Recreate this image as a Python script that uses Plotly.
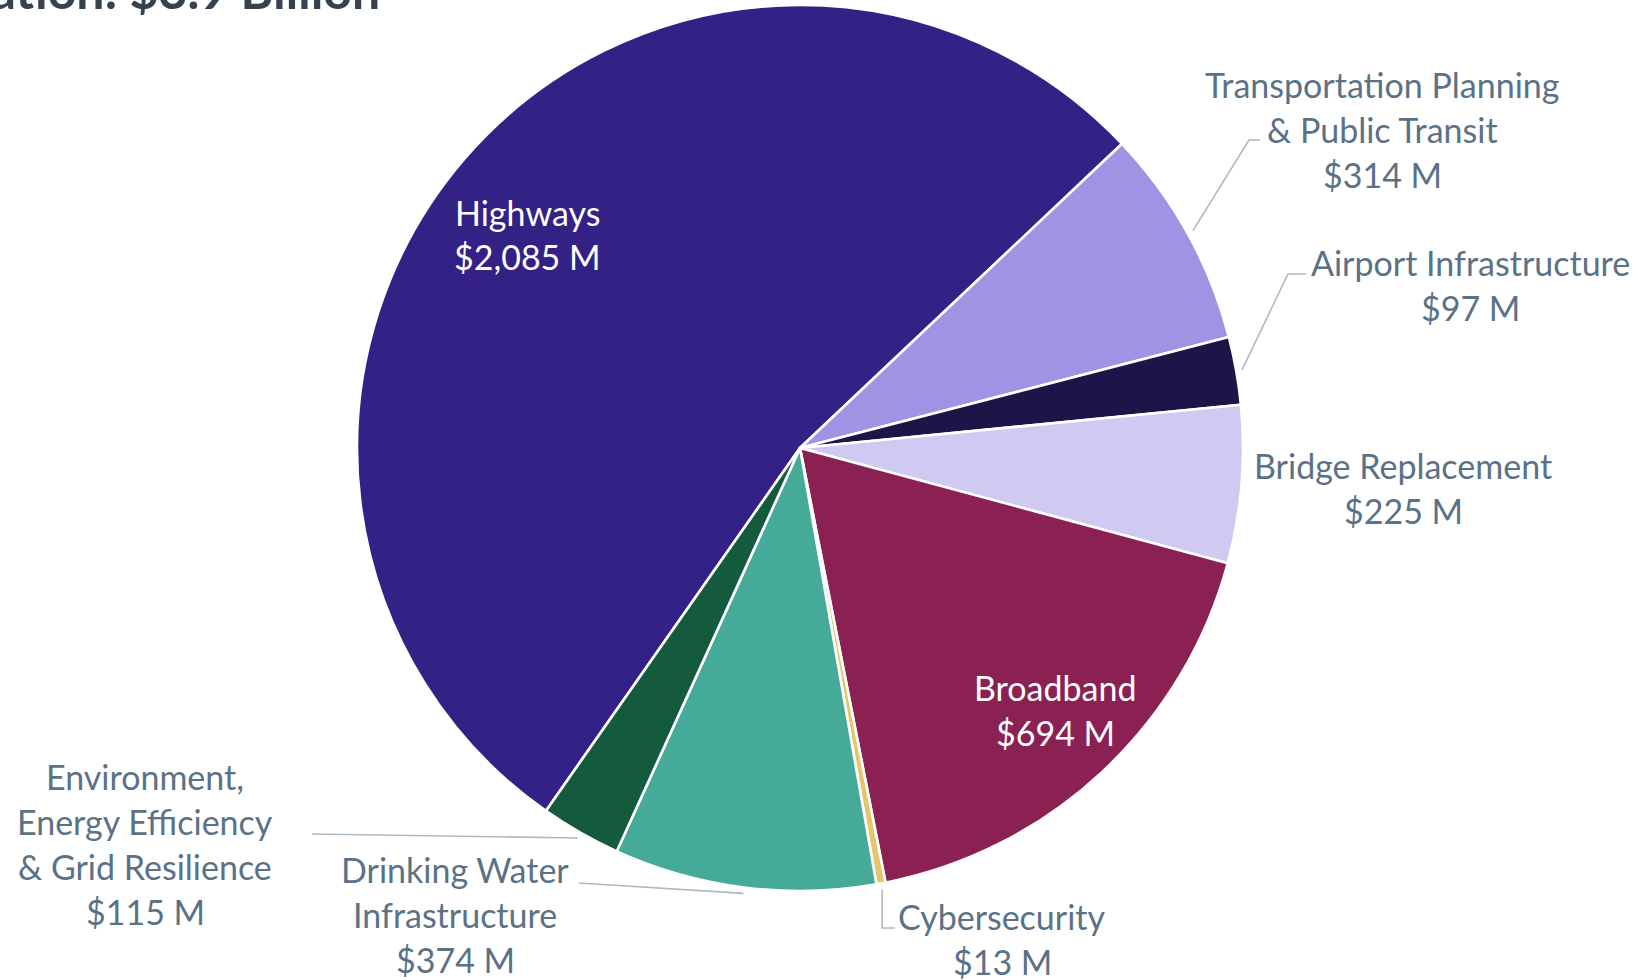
import math
import plotly.graph_objects as go

# ---- data -------------------------------------------------------------
categories = [
    "Highways",
    "Transportation Planning & Public Transit",
    "Airport Infrastructure",
    "Bridge Replacement",
    "Broadband",
    "Cybersecurity",
    "Drinking Water Infrastructure",
    "Environment, Energy Efficiency & Grid Resilience",
]
values_musd = [2085, 314, 97, 225, 694, 13, 374, 115]
label_lines = [
    ["Highways"],
    ["Transportation Planning", "& Public Transit"],
    ["Airport Infrastructure"],
    ["Bridge Replacement"],
    ["Broadband"],
    ["Cybersecurity"],
    ["Drinking Water", "Infrastructure"],
    ["Environment,", "Energy Efficiency", "& Grid Resilience"],
]
title_text = "Total Allocation: $3.9 Billion"

# ---- styling ----------------------------------------------------------
slice_colors = ["#342186", "#A193E3", "#1D1447", "#D0C9F1",
                "#8A2152", "#E4C66C", "#46AA99", "#145A3C"]
inside_labels = {"Highways", "Broadband"}
W, H = 1642, 980
CX, CY, R = 800, 448, 443          # pie centre / radius in px
ROTATION = -145                     # first slice start (deg, clockwise from 12)
FONT = "Lato, 'Noto Sans', sans-serif"
LABEL_COLOR = "#5B7286"
LEADER_COLOR = "#AABAC6"
LINE_GAP = 45
LABEL_SIZE = 34
TITLE_SIZE = 50

# label anchor (centre x, centre y of first line) and leader path end points
label_pos = {
    "Highways": (527, 212),
    "Transportation Planning & Public Transit": (1382, 84),
    "Airport Infrastructure": (1470, 262),
    "Bridge Replacement": (1403, 465),
    "Broadband": (1055, 687),
    "Cybersecurity": (1002, 916),
    "Drinking Water Infrastructure": (455, 869),
    "Environment, Energy Efficiency & Grid Resilience": (145, 776),
}
leader_path = {
    "Transportation Planning & Public Transit": [(1249, 140), (1260, 140)],
    "Airport Infrastructure": [(1288, 274), (1306, 274)],
    "Cybersecurity": [(895, 928)],     # drops straight down, then right
    "Drinking Water Infrastructure": [(579, 883)],
    "Environment, Energy Efficiency & Grid Resilience": [(312, 834)],
}


def px(x, y):
    return x / W, 1 - y / H


fig = go.Figure(
    go.Pie(
        labels=categories,
        values=values_musd,
        sort=False,
        direction="clockwise",
        rotation=ROTATION,
        marker=dict(colors=slice_colors, line=dict(color="white", width=2.6)),
        textinfo="none",
        hoverinfo="label+value",
        showlegend=False,
        domain=dict(x=[(CX - R) / W, (CX + R) / W],
                    y=[1 - (CY + R) / H, 1 - (CY - R) / H]),
    )
)

# mid-angle of each slice from the values, used to start leader lines
total = sum(values_musd)
mid_angle = {}
acc = 0
for name, v in zip(categories, values_musd):
    mid_angle[name] = ROTATION + (acc + v / 2) / total * 360
    acc += v

annotations = []
shapes = []
for name, v, lines in zip(categories, values_musd, label_lines):
    x0, y0 = label_pos[name]
    color = "white" if name in inside_labels else LABEL_COLOR
    for i, t in enumerate(lines + [f"${v:,} M"]):
        ax, ay = px(x0, y0 + i * LINE_GAP)
        annotations.append(dict(
            x=ax, y=ay, xref="paper", yref="paper", text=t, showarrow=False,
            xanchor="center", yanchor="middle",
            font=dict(family=FONT, size=LABEL_SIZE, color=color)))
    if name in leader_path:
        a = math.radians(mid_angle[name])
        sx = CX + (R + 6) * math.sin(a)
        sy = CY - (R + 6) * math.cos(a)
        pts = [(sx, sy)]
        if name == "Cybersecurity":
            ex, ey = leader_path[name][0]
            pts += [(sx, ey), (ex, ey)]
        else:
            pts += leader_path[name]
        path = "M " + " L ".join(f"{px(x, y)[0]:.5f},{px(x, y)[1]:.5f}" for x, y in pts)
        shapes.append(dict(type="path", xref="paper", yref="paper", path=path,
                           line=dict(color=LEADER_COLOR, width=1.6)))

# title, partly running off the top-left corner
tx, ty = px(382, 10)
annotations.append(dict(
    x=tx, y=ty, xref="paper", yref="paper", text=f"<b>{title_text}</b>",
    showarrow=False, xanchor="right", yanchor="bottom",
    yshift=-round(0.23 * TITLE_SIZE),
    font=dict(family=FONT, size=TITLE_SIZE, color="#37424F")))

fig.update_layout(
    width=W, height=H,
    margin=dict(l=0, r=0, t=0, b=0),
    paper_bgcolor="white", plot_bgcolor="white",
    annotations=annotations, shapes=shapes,
)

fig.write_html("out.html", config={"displayModeBar": False})
